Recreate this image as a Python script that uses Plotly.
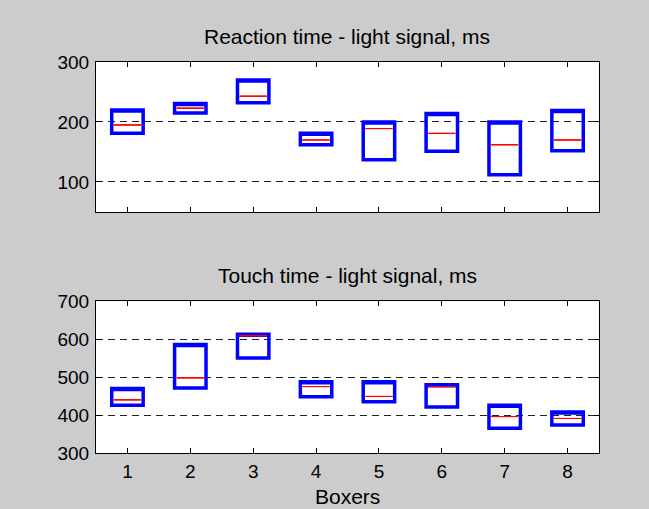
import plotly.graph_objects as go

boxers = [1, 2, 3, 4, 5, 6, 7, 8]

react_q1 = [181, 215, 232, 162, 137, 151, 112, 152]
react_med = [195, 223, 243, 170, 189, 181, 162, 170]
react_q3 = [220, 231, 270, 181, 200, 214, 200, 219]

touch_q1 = [426, 471, 550, 448, 435, 421, 365, 374]
touch_med = [440, 498, 609, 475, 449, 475, 396, 391]
touch_q3 = [470, 586, 613, 488, 488, 480, 426, 408]

titles = ["Reaction time - light signal, ms", "Touch time - light signal, ms"]
xlabel = "Boxers"

FONT = "Liberation Sans, Arial, Helvetica, sans-serif"
W, H = 649, 509
L, R, T, B = 95.5, 599.0, 62.3, 453.5   # plot-area pixel edges
PW, PH = R - L, B - T

def py(pix):
    return (B - pix) / PH

def px(pix):
    return (pix - L) / PW

fig = go.Figure()

def add_boxes(q1, med, q3, xa, ya):
    fig.add_trace(go.Box(
        x=boxers, q1=q1, median=q3, q3=q3, lowerfence=q1, upperfence=q3,
        width=0.5, line=dict(color="#0000ff", width=3.5), fillcolor="rgba(0,0,0,0)",
        whiskerwidth=0, xaxis=xa, yaxis=ya, showlegend=False, hoverinfo="skip"))
    fig.add_trace(go.Box(
        x=boxers, q1=med, median=med, q3=med, lowerfence=med, upperfence=med,
        width=0.43, line=dict(color="#ff0000", width=1), fillcolor="rgba(0,0,0,0)",
        whiskerwidth=0, xaxis=xa, yaxis=ya, showlegend=False, hoverinfo="skip"))

add_boxes(react_q1, react_med, react_q3, "x", "y")
add_boxes(touch_q1, touch_med, touch_q3, "x2", "y2")

common_x = dict(range=[0.5, 8.5], tickvals=boxers, ticks="inside", ticklen=5,
                tickcolor="black", mirror="ticks", showline=True, linecolor="black",
                linewidth=1, showgrid=False, zeroline=False, automargin=False,
                tickfont=dict(family=FONT, size=19, color="black"))
common_y = dict(ticks="inside", ticklen=5, tickcolor="black", mirror="ticks",
                showline=True, linecolor="black", linewidth=1, showgrid=True,
                gridcolor="#222222", griddash="7px,5px", gridwidth=1, zeroline=False,
                automargin=False, ticklabelstandoff=2,
                tickfont=dict(family=FONT, size=19, color="black"))

ann = dict(xref="paper", yref="paper", xanchor="center", yanchor="middle",
           showarrow=False, font=dict(family=FONT, size=21, color="black"))

fig.update_layout(
    width=W, height=H, autosize=False,
    margin=dict(l=L, r=W - R, t=T, b=H - B, pad=0),
    paper_bgcolor="#cccccc", plot_bgcolor="white", boxmode="overlay",
    xaxis=dict(common_x, anchor="y", showticklabels=False),
    yaxis=dict(common_y, anchor="x", range=[50, 300], tickvals=[100, 200, 300],
               domain=[py(212.3), 1.0]),
    xaxis2=dict(common_x, anchor="y2", ticklabelstandoff=1),
    yaxis2=dict(common_y, anchor="x2", range=[300, 700], tickvals=[300, 400, 500, 600, 700],
                domain=[0.0, py(301.6)]),
    annotations=[
        dict(ann, text=titles[0], x=px(347), y=py(37)),
        dict(ann, text=titles[1], x=px(347), y=py(276)),
        dict(ann, text=xlabel, x=px(347), y=py(497)),
    ],
)

fig.write_html("out.html", config={"displayModeBar": False},
               post_script="document.body.style.margin='0';document.body.style.overflow='hidden';")
